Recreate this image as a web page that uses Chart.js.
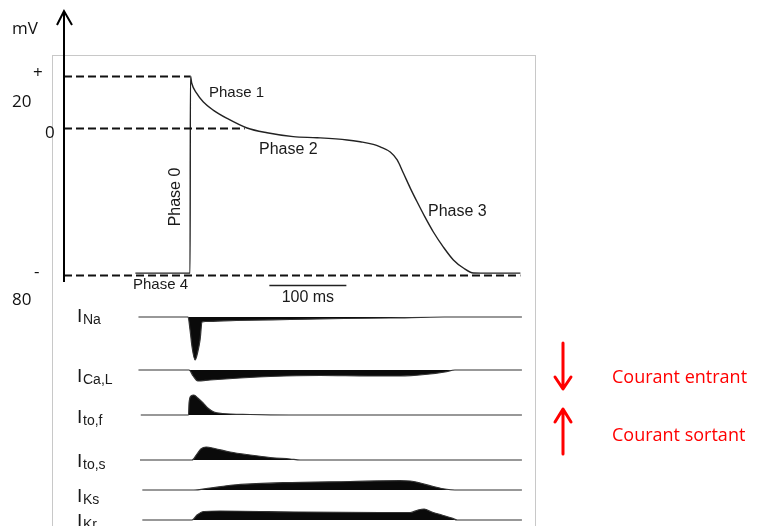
<!DOCTYPE html>
<html lang="fr">
<head>
<meta charset="UTF-8">
<title>Potentiel d'action et courants ioniques</title>
<script src="https://cdn.jsdelivr.net/npm/chart.js"></script>
<style>
    body { margin: 0; background: #fff; }
    #wrap { position: relative; width: 761px; height: 526px; overflow: hidden; }
</style>
</head>
<body>
<div id="wrap"><canvas id="apChart" width="761" height="526"></canvas></div>
<script>
// action potential (time in ms from the upstroke, membrane potential in mV)
const apTime = [-71, 0, 0.5, 2.2, 8.7, 17, 30, 48, 74, 100, 134, 165, 204, 221, 238, 247, 260, 269, 277, 286, 295, 305, 316, 329, 342, 355, 368, 390, 429];
const apMv   = [-79, -79, 20, 17.2, 13.3, 10.1, 6.9, 3.7, 0, -2.6, -4.7, -5.3, -6.5, -7.5, -8.9, -10.3, -13.1, -17.4, -24.5, -32.7, -40.3, -48.4, -56.6, -64.8, -71.8, -76.2, -78.9, -79, -79];

// ionic currents, relative amplitude (negative = inward, positive = outward)
const naTime  = [-67, -2.6, 0, 2.6, 6.5, 10, 13, 15.6, 20, 60, 130, 200, 260, 330, 431];
const naAmp   = [0, 0, -13, -30, -43, -35, -23, -5, -4.5, -3.5, -2.5, -1.5, -1, 0, 0];
const caTime  = [-67, -1.3, 4, 10, 26, 65, 104, 169, 234, 273, 305, 331, 344, 431];
const caAmp   = [0, 0, -6, -11, -10, -8, -6.5, -5.5, -6, -6, -4.5, -2, 0, 0];
const tofTime = [-64, -2, -1.3, 1.3, 5, 10, 17, 23, 31, 42, 78, 130, 431];
const tofAmp  = [0, 0, 12, 19, 20, 17, 12, 7, 3, 1.5, 0.5, 0, 0];
const tosTime = [-65, 2.6, 9, 14, 21, 32, 52, 78, 104, 130, 143, 431];
const tosAmp  = [0, 0, 6, 11, 13, 11.5, 8, 5, 2.5, 1, 0, 0];
const ksTime  = [-62, 4, 26, 56, 121, 208, 273, 286, 299, 316, 331, 344, 431];
const ksAmp   = [0, 0, 2, 5, 7.3, 8.5, 9.3, 9, 7, 3.5, 1, 0, 0];
const krTime  = [-62, 2.6, 9, 18, 39, 143, 247, 286, 296, 304, 314, 327, 340, 347, 431];
const krAmp   = [0, 0, 5, 8.5, 9, 8, 7.5, 7.5, 10, 11, 8, 5, 2, 0, 0];

const mvTicks = ['+', '20', '0', '-', '80'];

// the mV axis of the figure is schematic: -80 / 0 / +20 are not evenly spaced
const mvKnots = [[-80, 265], [0, 118], [20, 66]];
class MvScale extends Chart.LinearScale {
    getPixelForValue(value) {
        const a = value <= mvKnots[1][0] ? mvKnots[0] : mvKnots[1];
        const b = value <= mvKnots[1][0] ? mvKnots[1] : mvKnots[2];
        return this.top + a[1] + (value - a[0]) * (b[1] - a[1]) / (b[0] - a[0]);
    }
}
MvScale.id = 'mv';
MvScale.defaults = Chart.LinearScale.defaults;
Chart.register(MvScale);

const PLOT_TOP = 10, PLOT_BOTTOM = 526;
const traces = [
    { id: 'na',  t: naTime,  v: naAmp,  base: 317, main: 'I', sub: 'Na',   labelY: 322 },
    { id: 'ca',  t: caTime,  v: caAmp,  base: 370, main: 'I', sub: 'Ca,L', labelY: 382 },
    { id: 'tof', t: tofTime, v: tofAmp, base: 415, main: 'I', sub: 'to,f', labelY: 423 },
    { id: 'tos', t: tosTime, v: tosAmp, base: 460, main: 'I', sub: 'to,s', labelY: 467 },
    { id: 'ks',  t: ksTime,  v: ksAmp,  base: 490, main: 'I', sub: 'Ks',   labelY: 502 },
    { id: 'kr',  t: krTime,  v: krAmp,  base: 520, main: 'I', sub: 'Kr',   labelY: 527 }
];

const scales = {
    x: { type: 'linear', min: -165, max: 435, display: false },
    y: { type: 'mv', min: -88, max: 45, display: false }
};
traces.forEach(tr => {
    // 1 unit = 1 px, zero placed on the trace baseline
    scales[tr.id] = { type: 'linear', display: false, min: -(PLOT_BOTTOM - tr.base), max: tr.base - PLOT_TOP };
});

const datasets = [{
    label: 'AP',
    data: apTime.map((t, i) => ({ x: t, y: apMv[i] })),
    borderColor: '#222',
    borderWidth: 1.4,
    pointRadius: 0,
    cubicInterpolationMode: 'monotone',
    yAxisID: 'y'
}];
traces.forEach(tr => {
    datasets.push({
        label: tr.sub,
        data: tr.t.map((t, i) => ({ x: t, y: tr.v[i] })),
        borderColor: '#333',
        borderWidth: 1.2,
        backgroundColor: '#0a0a0a',
        fill: 'origin',
        pointRadius: 0,
        cubicInterpolationMode: 'monotone',
        yAxisID: tr.id
    });
});

const figure = {
    id: 'figure',
    beforeDatasetsDraw(chart) {
        const c = chart.ctx;
        c.save();
        c.strokeStyle = '#c8c8c8';
        c.lineWidth = 1;
        c.strokeRect(52.5, 55.5, 483, 500);
        c.restore();
    },
    afterDatasetsDraw(chart) {
        const c = chart.ctx, x = chart.scales.x, y = chart.scales.y;
        const left = chart.chartArea.left;
        c.save();

        // dashed reference levels
        c.strokeStyle = '#111';
        c.lineWidth = 2;
        c.setLineDash([8, 4]);
        [[20, 0], [0, 71], [-80, 429]].forEach(([mv, tEnd]) => {
            const py = Math.round(y.getPixelForValue(mv)) + 0.5;
            c.beginPath();
            c.moveTo(left + 1, py);
            c.lineTo(x.getPixelForValue(tEnd), py);
            c.stroke();
        });
        c.setLineDash([]);

        // vertical mV arrow
        const ax = left + 1;
        c.strokeStyle = '#000';
        c.lineWidth = 2;
        c.beginPath();
        c.moveTo(ax, 282); c.lineTo(ax, 11);
        c.moveTo(ax - 7, 25); c.lineTo(ax, 11); c.lineTo(ax + 8, 25);
        c.stroke();

        // axis labels
        c.fillStyle = '#111';
        c.font = '17px "Open Sans"';
        c.textBaseline = 'middle';
        c.textAlign = 'left';
        const p20 = y.getPixelForValue(20), p0 = y.getPixelForValue(0), p80 = y.getPixelForValue(-80);
        c.fillText('mV', 12, 29);
        c.fillText(mvTicks[0], 33, p20 - 3);
        c.fillText(mvTicks[1], 12, p20 + 26);
        c.fillText(mvTicks[2], 45, p0 + 5);
        c.fillText(mvTicks[3], 34, p80 - 3);
        c.fillText(mvTicks[4], 12, p80 + 25);

        // phase labels
        c.fillStyle = '#1a1a1a';
        c.font = '15px "Liberation Sans"';
        c.fillText('Phase 1', 209, 93);
        c.fillText('Phase 4', 133, 285);
        c.font = '16px "Liberation Sans"';
        c.fillText('Phase 2', 259, 150);
        c.fillText('Phase 3', 428, 212);
        c.save();
        c.translate(176, 197);
        c.rotate(-Math.PI / 2);
        c.textAlign = 'center';
        c.font = '16px "Liberation Sans"';
        c.fillText('Phase 0', 0, 0);
        c.restore();

        // 100 ms scale bar
        const s0 = x.getPixelForValue(103), s1 = x.getPixelForValue(203);
        c.strokeStyle = '#222';
        c.lineWidth = 1.5;
        c.beginPath();
        c.moveTo(s0, 285.5); c.lineTo(s1, 285.5);
        c.stroke();
        c.textAlign = 'center';
        c.fillText('100 ms', (s0 + s1) / 2, 298);

        // current names
        c.textAlign = 'left';
        c.textBaseline = 'alphabetic';
        traces.forEach(tr => {
            c.font = '19px "Liberation Sans"';
            c.fillText(tr.main, 77, tr.labelY);
            c.font = '14px "Liberation Sans"';
            c.fillText(tr.sub, 83, tr.labelY + 2);
        });

        // inward / outward legend
        c.strokeStyle = '#ff0000';
        c.fillStyle = '#ff0000';
        c.lineWidth = 3;
        c.lineCap = 'round';
        c.lineJoin = 'round';
        c.beginPath();
        c.moveTo(563, 343); c.lineTo(563, 388);
        c.moveTo(555, 377); c.lineTo(563, 389); c.lineTo(571, 377);
        c.moveTo(563, 454); c.lineTo(563, 410);
        c.moveTo(555, 422); c.lineTo(563, 409); c.lineTo(571, 422);
        c.stroke();
        c.font = '18px "Open Sans"';
        c.textBaseline = 'middle';
        c.fillText('Courant entrant', 612, 378);
        c.fillText('Courant sortant', 612, 436);

        c.restore();
    }
};

new Chart(document.getElementById('apChart'), {
    type: 'line',
    data: { datasets },
    options: {
        responsive: false,
        animation: false,
        events: [],
        layout: { padding: { left: 63, right: 236, top: PLOT_TOP, bottom: 0 } },
        plugins: { legend: { display: false }, tooltip: { enabled: false } },
        scales
    },
    plugins: [figure]
});
</script>
</body>
</html>
